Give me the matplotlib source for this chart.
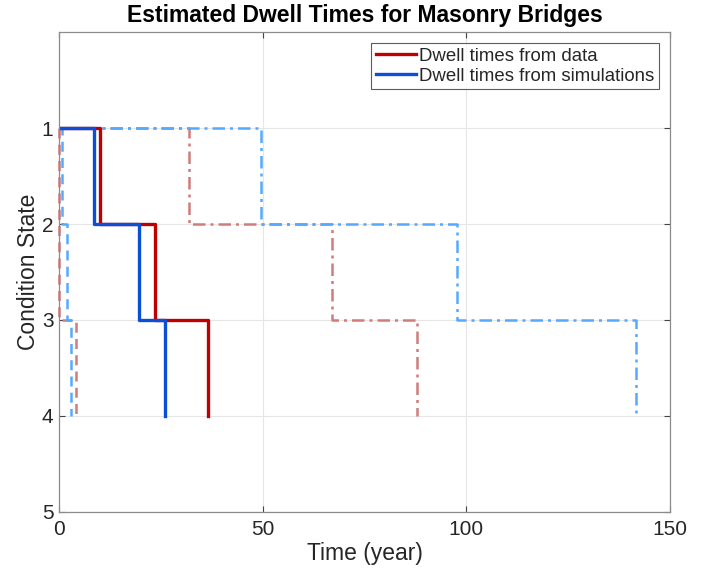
import matplotlib
matplotlib.use("Agg")
import matplotlib.pyplot as plt
from matplotlib.lines import Line2D

plt.rcParams['font.family'] = ['Liberation Sans', 'DejaVu Sans']

# Cumulative dwell times (years) at which each condition-state transition occurs
states = [1, 2, 3, 4]
data_mean = [0, 10.1, 23.6, 36.5]
data_lower = [0, 0.0, 0.0, 4.2]
data_upper = [0, 32.0, 67.0, 87.9]
sim_mean = [0, 8.7, 19.7, 26.0]
sim_lower = [0, 0.8, 1.9, 2.9]
sim_upper = [0, 49.5, 97.7, 141.7]

x_ticks = [0, 50, 100, 150]
y_ticks = [1, 2, 3, 4, 5]

red = '#C00000'
blue = '#0A4FD6'
light_red = '#D07C7C'
light_blue = '#55AAFF'
text_col = '#262626'

fig = plt.figure(figsize=(7.04, 5.75), dpi=100)
ax = fig.add_axes([0.0838, 0.1096, 0.8679, 0.8347])

ax.step(data_upper, states, where='post', color=light_red, lw=1.8, ls=(0, (5, 2, 1.2, 2)))
ax.step(sim_upper, states, where='post', color=light_blue, lw=1.8, ls=(0, (5, 2, 1.2, 2)))
ax.step(data_lower, states, where='post', color=light_red, lw=1.8, ls=(0, (4, 2.5)), clip_on=False)
ax.step(sim_lower, states, where='post', color=light_blue, lw=1.8, ls=(0, (4, 2.5)))
ax.step(data_mean, states, where='post', color=red, lw=2.4)
ax.step(sim_mean, states, where='post', color=blue, lw=2.4)

ax.set_xlim(0, 150)
ax.set_ylim(5, 0)
ax.set_xticks(x_ticks)
ax.set_yticks(y_ticks)
ax.tick_params(direction='in', labelsize=15, color='#444444', labelcolor=text_col,
               length=4, top=True, right=True, pad=4)
ax.tick_params(axis='x', pad=6)
ax.grid(True, color='#E6E6E6', lw=0.8)
ax.set_axisbelow(True)
for s in ax.spines.values():
    s.set_color('#8C8C8C')
    s.set_linewidth(0.9)

ax.set_xlabel('Time (year)', fontsize=16.5, labelpad=2, color=text_col)
ax.set_ylabel('Condition State', fontsize=16.5, labelpad=1, color=text_col)
ax.set_title('Estimated Dwell Times for Masonry Bridges', fontsize=16.5,
             fontweight='bold', pad=7, color='black')

handles = [Line2D([], [], color=red, lw=2.4), Line2D([], [], color=blue, lw=2.4)]
leg = ax.legend(handles, ['Dwell times from data', 'Dwell times from simulations'],
                loc='upper right', fontsize=13.4, frameon=True, fancybox=False,
                edgecolor='#333333', handlelength=2.15, handletextpad=0.18,
                borderpad=0.25, labelspacing=0.15, borderaxespad=0.6)
leg.get_frame().set_linewidth(0.8)
for t in leg.get_texts():
    t.set_color(text_col)

fig.savefig('out.png', dpi=100)
